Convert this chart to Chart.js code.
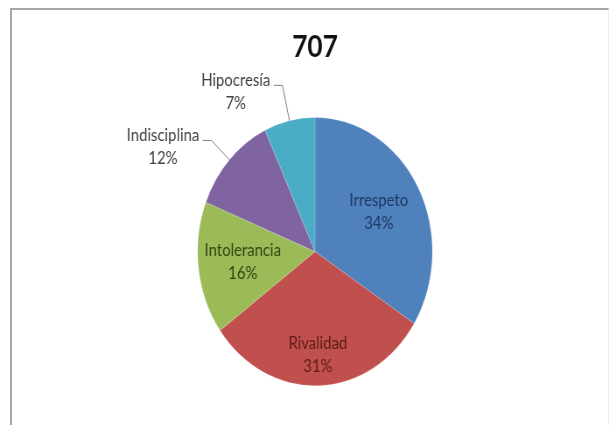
<!DOCTYPE html>
<html>
<head>
<meta charset="utf-8">
<title>707</title>
<script src="https://cdn.jsdelivr.net/npm/chart.js@4/dist/chart.umd.min.js"></script>
<style>
    html, body { margin: 0; padding: 0; background: #fff; overflow: hidden; }
    .frame_box {
        position: absolute; left: 10px; top: 8px; width: 596px; height: 440px;
        border-left: 2px solid #a6a6a6; border-top: 2px solid #a6a6a6; border-right: 1px solid #ececec;
    }
    /* 图表整体横向压缩, 饼图呈椭圆 */
    .chart_wrap {
        position: absolute; left: 0; top: 0; width: 696px; height: 425px;
        transform: scaleX(0.875); transform-origin: 0 0;
    }
</style>
</head>
<body>
<div class="frame_box"></div>
<div class="chart_wrap"><canvas id="myChart"></canvas></div>
<script>
// 数据
var categories = ['Irrespeto', 'Rivalidad', 'Intolerancia', 'Indisciplina', 'Hipocresía'];
var percents = [34, 31, 16, 12, 7];

// 样式
var sliceColors = ['#4f81bd', '#c0504d', '#9bbb59', '#8064a2', '#4bacc6'];
var labelColors = ['#1f3864', '#5e1a18', '#34430f', '#404040', '#404040'];
// 标签距圆心的比例, >1 的放在外面并画引线
var labelRadius = [0.62, 0.77, 0.62, 1.21, 1.27];

var labelFont = '17px Lato, "Open Sans", sans-serif';

/**
 * 画扇区标签 (名称 + 百分比)
 */
var sliceLabels = {
    id: 'sliceLabels',
    afterDatasetsDraw: function (chart) {
        var ctx = chart.ctx,
            arcs = chart.getDatasetMeta(0).data,
            values = chart.data.datasets[0].data,
            total = 0;

        for (var j = 0; j < values.length; j++) {
            total += values[j];
        }

        ctx.save();
        ctx.font = labelFont;
        ctx.textBaseline = 'middle';

        for (var i = 0; i < arcs.length; i++) {
            var p = arcs[i].getProps(['x', 'y', 'startAngle', 'endAngle', 'outerRadius'], true),
                mid = (p.startAngle + p.endAngle) / 2,
                k = labelRadius[i],
                name = chart.data.labels[i],
                pct = Math.round(values[i] / total * 100) + '%',
                bx = p.x + Math.cos(mid) * p.outerRadius * k,
                by = p.y + Math.sin(mid) * p.outerRadius * k;

            ctx.fillStyle = labelColors[i];
            ctx.textAlign = 'center';

            if (k <= 1) {
                ctx.fillText(name, bx, by - 11.5);
                ctx.fillText(pct, bx, by + 11.5);
                continue;
            }

            //引线: 扇区边缘 -> 折点 -> 水平一小段
            var ex = p.x + Math.cos(mid) * p.outerRadius,
                ey = p.y + Math.sin(mid) * p.outerRadius,
                endX = bx - 10;

            ctx.strokeStyle = '#7f7f7f';
            ctx.lineWidth = 1;
            ctx.beginPath();
            ctx.moveTo(ex, ey);
            ctx.lineTo(bx, by);
            ctx.lineTo(endX, by);
            ctx.stroke();

            var w = Math.max(ctx.measureText(name).width, ctx.measureText(pct).width),
                cx = endX - 4 - w / 2;
            ctx.fillText(name, cx, by - 5);
            ctx.fillText(pct, cx, by + 18);
        }
        ctx.restore();
    }
};

var ctx = document.getElementById('myChart').getContext('2d');
var chart = new Chart(ctx, {
    type: 'pie',
    data: {
        labels: categories,
        datasets: [{
            data: percents,
            backgroundColor: sliceColors,
            borderColor: 'rgba(255,255,255,0.35)',
            borderWidth: 0.5
        }]
    },
    options: {
        responsive: true,
        maintainAspectRatio: false,
        animation: false,
        layout: {
            padding: {left: 24, right: 0, top: 29.6, bottom: 39}
        },
        plugins: {
            legend: {display: false},
            tooltip: {enabled: false},
            title: {
                display: true,
                text: '707',
                color: '#111',
                font: {family: 'Lato, "Open Sans", sans-serif', size: 30, weight: 'bold'},
                padding: {top: 0, bottom: 51.6}
            }
        }
    },
    plugins: [sliceLabels]
});
</script>
</body>
</html>
